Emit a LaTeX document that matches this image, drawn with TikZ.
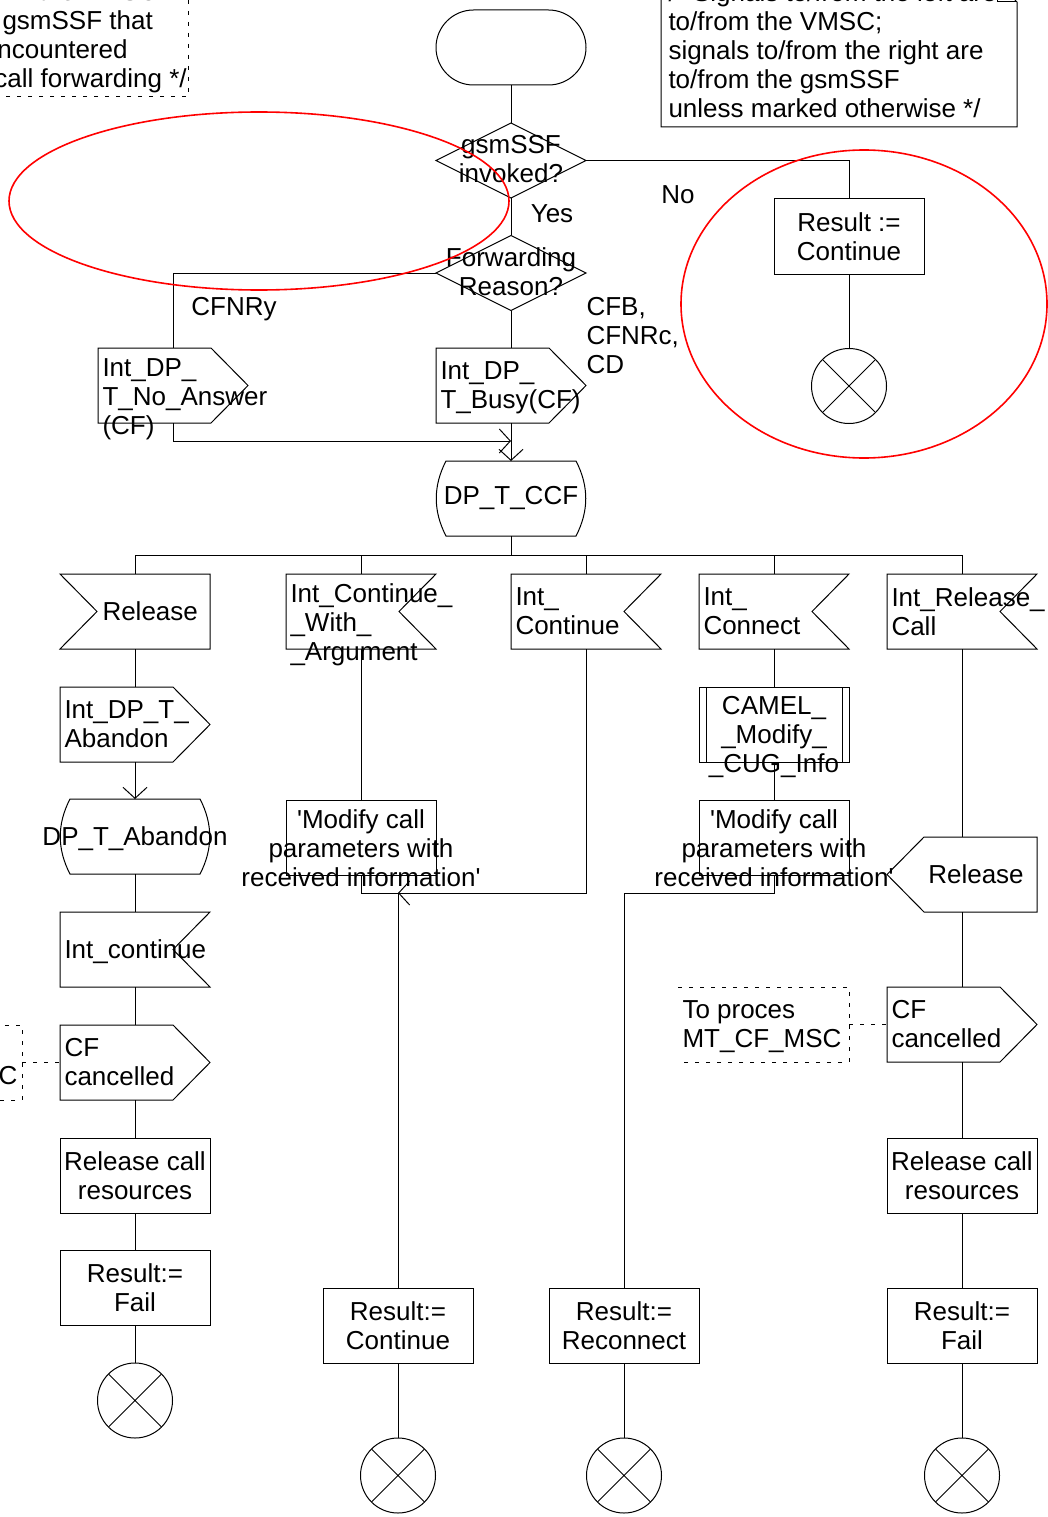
\documentclass[tikz,border=0pt]{standalone}
\usepackage{fontspec}
\setmainfont{Liberation Sans}[Ligatures=TeXOff]
\usetikzlibrary{arrows.meta,shapes.geometric}

% SDL symbol outlines drawn around an (invisible) named node
\newcommand\OutRight[1]{\draw (#1.north west) -- ([xshift=-37pt]#1.north east) -- (#1.east) -- ([xshift=-37pt]#1.south east) -- (#1.south west) -- cycle;}
\newcommand\OutLeft[1]{\draw (#1.north east) -- ([xshift=37pt]#1.north west) -- (#1.west) -- ([xshift=37pt]#1.south west) -- (#1.south east) -- cycle;}
\newcommand\InLeft[1]{\draw (#1.north west) -- (#1.north east) -- (#1.south east) -- (#1.south west) -- ([xshift=37pt]#1.west) -- cycle;}
\newcommand\InRight[1]{\draw (#1.north west) -- (#1.north east) -- ([xshift=-37pt]#1.east) -- (#1.south east) -- (#1.south west) -- cycle;}
\newcommand\StateShape[1]{\draw ([xshift=10pt]#1.north west) -- ([xshift=-10pt]#1.north east)
  .. controls ([xshift=3pt,yshift=-25pt]#1.north east) and ([xshift=3pt,yshift=25pt]#1.south east) .. ([xshift=-10pt]#1.south east)
  -- ([xshift=10pt]#1.south west)
  .. controls ([xshift=-3pt,yshift=25pt]#1.south west) and ([xshift=-3pt,yshift=-25pt]#1.north west) .. ([xshift=10pt]#1.north west) -- cycle;}
\newcommand\ProcCall[1]{\draw (#1.north west) rectangle (#1.south east);
  \draw ([xshift=7pt]#1.north west) -- ([xshift=7pt]#1.south west);
  \draw ([xshift=-7pt]#1.north east) -- ([xshift=-7pt]#1.south east);}
\newcommand\NoteBracket[1]{\draw[remark] (#1.north west) -- (#1.north east) -- (#1.south east) -- (#1.south west);}

\tikzset{
  sym/.style={minimum width=150pt, minimum height=75pt, inner sep=0pt, outer sep=0pt},
  taskbox/.style={sym, draw, align=center},
  decision/.style={diamond, draw, minimum width=150pt, minimum height=75pt, inner sep=0pt, outer sep=0pt},
  txt/.style={inner sep=0pt, align=left},
  ctxt/.style={inner sep=0pt, align=center},
  stopsym/.style={circle, draw, minimum size=75pt, inner sep=0pt, outer sep=0pt,
    path picture={\draw (path picture bounding box.north west) -- (path picture bounding box.south east)
                        (path picture bounding box.north east) -- (path picture bounding box.south west);}},
  arr/.style={-{Straight Barb[length=11pt,width=24pt]}},
  remark/.style={dash pattern=on 4pt off 7pt},
  redring/.style={draw=red, line width=1.6pt}
}

\begin{document}
\begin{tikzpicture}[x=1pt, y=-1pt, line width=1pt, font=\fontsize{26}{29}\selectfont]
\useasboundingbox (0,0) rectangle (1048,1517);

% ---- comments at the top ----
\node[sym, minimum width=388pt, minimum height=127pt] (note0) at (-6,33.5) {};
\NoteBracket{note0}
\node[anchor=base east, inner sep=0pt] at (158,1) {in the VMSC};
\node[anchor=base west, inner sep=0pt] at (2,29.3) {gsmSSF that};
\node[anchor=base west, inner sep=0pt] at (-17.5,58.3) {encountered};
\node[anchor=base west, inner sep=0pt] at (-6,87.3) {call forwarding */};

\node[sym, minimum width=356pt, minimum height=145pt] (note3) at (839,54.5) {};
\draw (note3.south west) -- (note3.north west) -- ([xshift=-20pt]note3.north east) -- ([yshift=-20pt]note3.north east) -- (note3.south east) -- cycle;
\draw ([xshift=-20pt]note3.north east) |- ([yshift=-20pt]note3.north east);
\node[txt, anchor=north west] at (668,-18.3) {/* Signals to/from the left are\\to/from the VMSC;\\signals to/from the right are\\to/from the gsmSSF\\unless marked otherwise */};

% ---- start and decisions ----
\node[sym, draw, rounded corners=37.5pt] (start) at (511,47.5) {};
\node[decision] (ask1) at (511,160.5) {};
\node[ctxt] at (511,159) {gsmSSF\\invoked?};
\node[decision] (ask2) at (511,273) {};
\node[ctxt] at (511,271.5) {Forwarding\\Reason?};

\node[anchor=base, inner sep=0pt] at (552,222.3) {Yes};
\node[anchor=base, inner sep=0pt] at (678,203.3) {No};
\node[anchor=base, inner sep=0pt] at (234,315.3) {CFNRy};
\node[txt, anchor=north west] at (586,296.7) {CFB,\\CFNRc,\\CD};

\node[taskbox] (res1) at (849,236.5) {Result :=\\Continue};
\node[stopsym] (stop1) at (849,386) {};

\node[sym] (noans) at (173,385.5) {}; \OutRight{noans}
\node[txt, anchor=north west] at (102,357.7) {Int\_DP\_\\T\_No\_Answer\\(CF)};
\node[sym] (busy) at (511,385.5) {}; \OutRight{busy}
\node[txt, anchor=north west] at (440,360.7) {Int\_DP\_\\T\_Busy(CF)};
\coordinate (join1) at (511,441);

\node[sym] (ccf) at (511,498.5) {DP\_T\_CCF}; \StateShape{ccf}
\coordinate (fork) at (511,555);

% ---- inputs after DP_T_CCF ----
\node[sym] (sigrel) at (135,611.5) {}; \InLeft{sigrel}
\node[anchor=base west, inner sep=0pt] at (102,620.3) {Release};
\node[sym] (sigcwa) at (361,611.5) {}; \InRight{sigcwa}
\node[txt, anchor=north west] at (290,582.7) {Int\_Continue\_\\\_With\_\\\_Argument};
\node[sym] (sigcont) at (586,611.5) {}; \InRight{sigcont}
\node[txt, anchor=north west] at (515,586.7) {Int\_\\Continue};
\node[sym] (sigconn) at (774,611.5) {}; \InRight{sigconn}
\node[txt, anchor=north west] at (703,586.7) {Int\_\\Connect};
\node[sym] (sigrc) at (962,611.5) {}; \InRight{sigrc}
\node[txt, anchor=north west] at (891,586.7) {Int\_Release\_\\Call};

% ---- Release branch ----
\node[sym] (abandon) at (135,724.5) {}; \OutRight{abandon}
\node[txt, anchor=north west] at (64,699.7) {Int\_DP\_T\_\\Abandon};
\node[sym] (dpab) at (135,836.5) {}; \StateShape{dpab}
\node[anchor=base, inner sep=0pt] at (135,845.3) {DP\_T\_Abandon};
\node[sym] (intc) at (135,949.5) {}; \InRight{intc}
\node[anchor=base west, inner sep=0pt] at (64,958.8) {Int\_continue};
\node[sym] (cfc1) at (135,1062.5) {}; \OutRight{cfc1}
\node[txt, anchor=north west] at (64,1037.7) {CF\\cancelled};
\node[taskbox] (relres1) at (135,1175.5) {Release call\\resources};
\node[taskbox] (fail1) at (135,1287.5) {Result:=\\Fail};
\node[stopsym] (stop2) at (135,1400.5) {};

\node[sym, minimum width=171pt] (note1) at (-63.5,1062.5) {};
\NoteBracket{note1}
\node[txt, anchor=north west] at (-142,1036.7) {To proces\\MT\_CF\_MSC};

% ---- continue branches ----
\node[sym, draw] (mod1) at (361,837.5) {};
\node[ctxt, anchor=north] at (361,808.7) {'Modify call\\parameters with\\received information'};
\coordinate (merge1) at (586,893);
\coordinate (arrow1) at (398,893);
\node[taskbox] (rcont) at (398,1325.5) {Result:=\\Continue};
\node[stopsym] (stop3) at (398,1475.5) {};

\node[sym] (camel) at (774,724.5) {}; \ProcCall{camel}
\node[ctxt, anchor=north] at (774,695.7) {CAMEL\_\\\_Modify\_\\\_CUG\_Info};
\node[sym, draw] (mod2) at (774,837.5) {};
\node[ctxt, anchor=north] at (774,808.7) {'Modify call\\parameters with\\received information'};
\coordinate (merge2) at (624,893);
\node[taskbox] (rrec) at (624,1325.5) {Result:=\\Reconnect};
\node[stopsym] (stop4) at (624,1475.5) {};

% ---- release call branch ----
\node[sym] (rel2) at (962,874.5) {}; \OutLeft{rel2}
\node[anchor=base, inner sep=0pt] at (976,883.3) {Release};
\node[sym] (cfc2) at (962,1024.5) {}; \OutRight{cfc2}
\node[txt, anchor=north west] at (891,999.7) {CF\\cancelled};
\node[taskbox] (relres2) at (962,1175.5) {Release call\\resources};
\node[taskbox] (fail2) at (962,1325.5) {Result:=\\Fail};
\node[stopsym] (stop5) at (962,1475.5) {};

\node[sym, minimum width=171pt] (note2) at (763.5,1024.5) {};
\NoteBracket{note2}
\node[txt, anchor=north west] at (682,999.7) {To proces\\MT\_CF\_MSC};

% ---- flow lines ----
\draw (start) -- (ask1);
\draw (ask1.east) -| (res1.north);
\draw (res1) -- (stop1);
\draw (ask1) -- (ask2);
\draw (ask2.west) -| (noans.north);
\draw (ask2) -- (busy);
\draw[arr] (noans.south) |- (join1);
\draw[arr] (busy.south) -- (ccf.north);

\draw (ccf.south) -- (fork);
\draw (fork) -| (sigrel.north);
\draw (fork) -| (sigcwa.north);
\draw (fork) -| (sigcont.north);
\draw (fork) -| (sigconn.north);
\draw (fork) -| (sigrc.north);

\draw (sigrel) -- (abandon);
\draw[arr] (abandon.south) -- (dpab.north);
\draw (dpab) -- (intc);
\draw (intc) -- (cfc1);
\draw (cfc1) -- (relres1);
\draw (relres1) -- (fail1);
\draw (fail1) -- (stop2);
\draw[remark] (note1.east) -- (cfc1.west);

\draw (sigcwa) -- (mod1);
\draw (mod1.south) |- (merge1);
\draw[arr] (sigcont.south) -- (merge1) -- (arrow1);
\draw (arrow1) -- (rcont.north);
\draw (rcont) -- (stop3);

\draw (sigconn) -- (camel);
\draw (camel) -- (mod2);
\draw (mod2.south) |- (merge2) -- (rrec.north);
\draw (rrec) -- (stop4);

\draw (sigrc.south) -- (rel2.north);
\draw (rel2) -- (cfc2);
\draw (cfc2) -- (relres2);
\draw (relres2) -- (fail2);
\draw (fail2) -- (stop5);
\draw[remark] (note2.east) -- (cfc2.west);

% ---- highlight rings ----
\draw[redring] (259,201) ellipse [x radius=250pt, y radius=89pt];
\draw[redring] (864,304) ellipse [x radius=183pt, y radius=154pt];
\end{tikzpicture}
\end{document}
